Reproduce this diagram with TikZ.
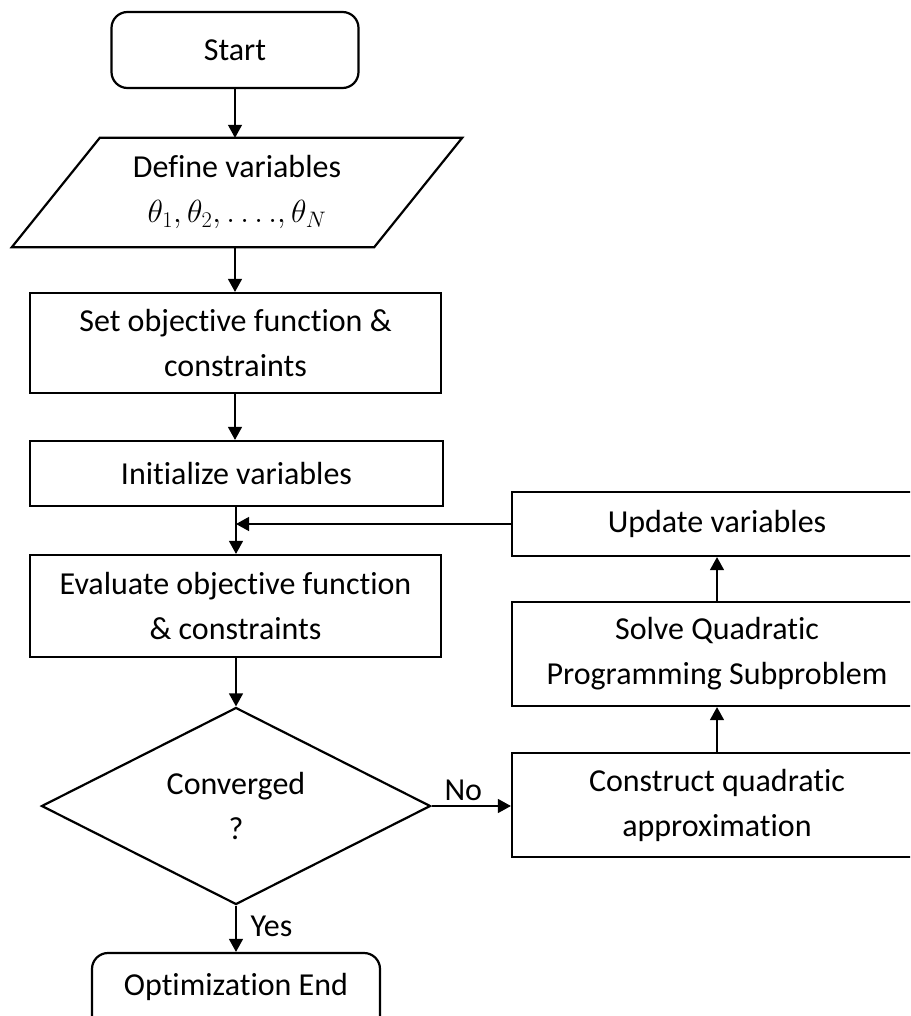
\RequirePackage{fix-cm}
\documentclass[tikz,border=0pt]{standalone}
\usepackage{fontspec}
\setmainfont{Carlito}[Ligatures=NoCommon]
\usetikzlibrary{shapes.geometric,arrows.meta,calc}

\begin{document}
\begin{tikzpicture}[x=1pt,y=-1pt,
  font=\fontsize{32}{45}\selectfont,
  box/.style={draw,line width=2.2pt,rectangle,align=center,inner sep=0pt},
  term/.style={box,rounded corners=16pt},
  decision/.style={draw,line width=2.2pt,diamond,aspect=1.97,align=center,inner sep=0pt,
    minimum width=389pt,minimum height=197pt},
  conn/.style={line width=1.3pt,-{Triangle[length=13pt,width=14pt]}},
  lbl/.style={inner sep=0pt}
]
\clip (0,0) rectangle (910,1016);
\fill[white] (0,0) rectangle (910,1016);

% main column
\node[term,minimum width=247pt,minimum height=76pt] (start) at (235,50) {Start};
\node[align=center,minimum width=362pt,minimum height=109pt,inner sep=0pt] (define) at (237,192.5)
  {Define variables\\$\theta_1,\theta_2,\ldots.,\theta_N$};
\draw[line width=2.2pt,line join=miter]
  ($(define.north west)+(44,0)$) -- ($(define.north east)+(44,0)$) --
  ($(define.south east)+(-44,0)$) -- ($(define.south west)+(-44,0)$) -- cycle;
\node[box,minimum width=411pt,minimum height=100pt] (set) at (235.5,343)
  {Set objective function \&\\constraints};
\node[box,minimum width=413pt,minimum height=65pt] (init) at (236.5,473.5) {Initialize variables};
\node[box,minimum width=411pt,minimum height=102pt] (eval) at (235.5,606)
  {Evaluate objective function\\\& constraints};
\node[decision] (conv) at (236,806) {Converged\\?};
\node[term,minimum width=288pt,minimum height=84pt,text depth=21pt] (end) at (236,995) {Optimization End};

% update loop
\node[box,minimum width=410pt,minimum height=64pt] (update) at (717,524) {Update variables};
\node[box,minimum width=410pt,minimum height=104pt] (solve) at (717,654)
  {Solve Quadratic\\Programming Subproblem};
\node[box,minimum width=410pt,minimum height=104pt] (cons) at (717,805)
  {Construct quadratic\\approximation};

% connectors
\draw[conn] (start.south) -- (start.south |- define.north);
\draw[conn] (start.south |- define.south) -- (start.south |- set.north);
\draw[conn] (start.south |- set.south) -- (start.south |- init.north);
\draw[conn] (conv.north |- init.south) -- (conv.north |- eval.north);
\coordinate (merge) at (conv.north |- update.west);
\draw[conn] (update.west) -- (merge);
\draw[conn] (conv.north |- eval.south) -- (conv.north);
\draw[conn] (conv.south) -- (end.north)
  node[lbl,pos=0.45,right=14pt] {Yes};
\draw[conn] (conv.east) -- (cons.west |- conv.east)
  node[lbl,pos=0.4,above=5pt] {No};
\draw[conn] (cons.north) -- (solve.south);
\draw[conn] (solve.north) -- (update.south);
\end{tikzpicture}
\end{document}
